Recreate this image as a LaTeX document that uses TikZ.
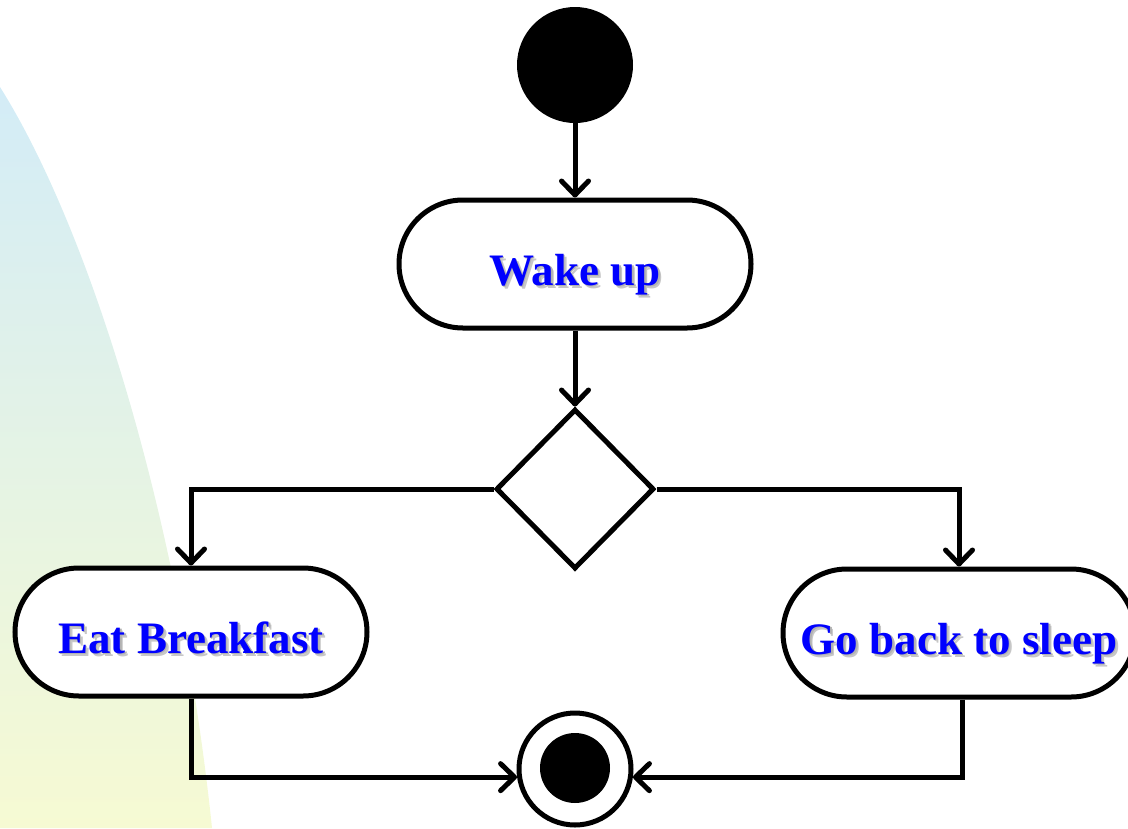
\documentclass[tikz,border=0pt]{standalone}
\usepackage{fontspec}
\setmainfont{Liberation Serif}
\usetikzlibrary{arrows.meta,shapes.geometric,shapes.misc}
\definecolor{bgtop}{HTML}{D3ECF7}
\definecolor{bgmid}{HTML}{E7F4E6}
\definecolor{bgbot}{HTML}{F6FAD3}
\definecolor{txtblue}{HTML}{0000FF}
\newcommand\shadowtext[1]{\leavevmode\rlap{\kern3pt\raisebox{-3pt}{\color{black!22}#1}}\rlap{\kern1.5pt\raisebox{-1.5pt}{\color{black!30}#1}}{\color{txtblue}#1}}
\begin{document}
\begin{tikzpicture}[x=1pt,y=-1pt,
  actbox/.style={rounded rectangle, draw=black, fill=white, line width=5pt,
    minimum width=352pt, minimum height=128pt, inner sep=0pt,
    text height=42pt, text depth=0pt,
    font=\fontsize{45}{54}\selectfont\bfseries},
  flow/.style={line width=5pt, -{Straight Barb[length=14pt,width=27pt,round]}}]
\useasboundingbox (0,0) rectangle (1128,828);
\shade[top color=bgtop, middle color=bgmid, bottom color=bgbot]
  (0,87) .. controls (90,230) and (180,520) .. (212,828) -- (0,828) -- cycle;
\node[circle, fill=black, minimum size=116pt, inner sep=0pt] (start) at (575,65) {};
\node[actbox] (wake) at (575,264) {\shadowtext{Wake up}};
\node[diamond, draw=black, fill=white, line width=5pt, inner sep=0pt,
  minimum width=158pt, minimum height=160pt] (dec) at (575,489) {};
\node[actbox] (eat) at (191,632) {\shadowtext{Eat Breakfast}};
\node[actbox] (sleep) at (959,633) {\shadowtext{Go back to sleep}};
\node[circle, draw=black, fill=white, line width=5pt, minimum size=112pt, inner sep=0pt] (endc) at (575,769) {};
\node[circle, fill=black, minimum size=70pt, inner sep=0pt] (endin) at (575,768) {};
\draw[flow] (start.south) -- (wake.north);
\draw[flow] (wake.south) -- (dec.north);
\draw[flow] (dec.west) -| (eat.north);
\draw[flow] (dec.east) -| (sleep.north);
\draw[flow] (eat.south) |- (endc.188);
\draw[flow] ([xshift=3pt]sleep.south) |- (endc.352);
\end{tikzpicture}
\end{document}
